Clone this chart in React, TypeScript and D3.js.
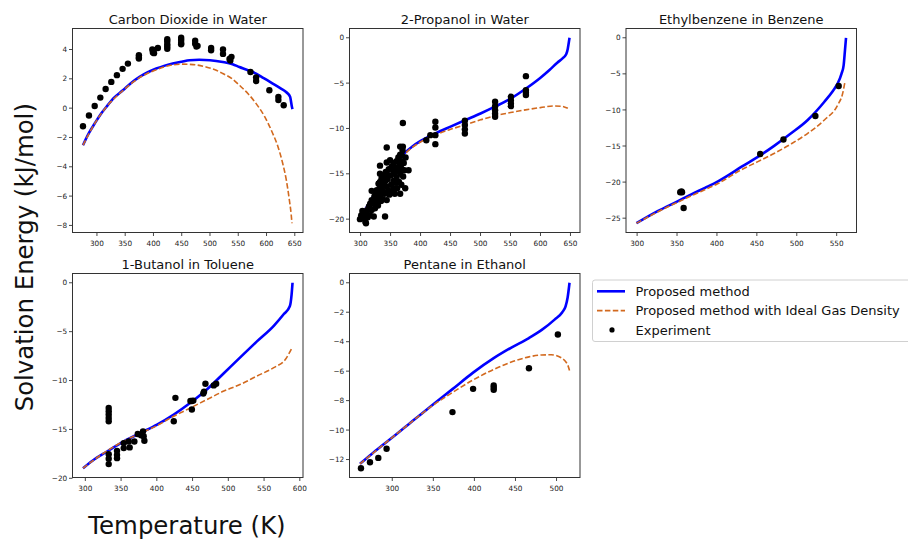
import React from "react";
import * as d3 from "d3";

type P = [number, number];

const panelTitles = [
  "Carbon Dioxide in Water",
  "2-Propanol in Water",
  "Ethylbenzene in Benzene",
  "1-Butanol in Toluene",
  "Pentane in Ethanol",
];

const legendLabels = ["Proposed method", "Proposed method with Ideal Gas Density", "Experiment"];
const xAxisLabel = "Temperature (K)";
const yAxisLabel = "Solvation Energy (kJ/mol)";

// ---------- Carbon Dioxide in Water ----------
const co2Proposed: P[] = [
  [275.3, -2.53], [285, -1.75], [296, -1.05], [306, -0.45], [316.6, 0.08], [330, 0.7],
  [345.9, 1.22], [360, 1.7], [375.4, 2.13], [390, 2.45], [405, 2.7], [420, 2.9],
  [434, 3.04], [450, 3.17], [463.8, 3.27], [481, 3.3], [500, 3.27], [522.6, 3.15],
  [540, 3.0], [552, 2.81], [565, 2.62], [581.6, 2.36], [595, 2.05], [611, 1.68],
  [625, 1.35], [634.6, 1.1], [641.7, 0.77], [645, 0.08], [646, -0.06],
];
const co2Ideal: P[] = [
  [275.3, -2.53], [296, -1.05], [316.6, 0.08], [345.9, 1.2], [375.4, 2.08], [405, 2.62],
  [430, 2.92], [450, 3.0], [470, 2.97], [493, 2.81], [510, 2.6], [522.6, 2.36],
  [540, 1.98], [552, 1.56], [567, 1.0], [581.6, 0.31], [597, -0.6], [611, -1.73],
  [620, -2.6], [628.7, -3.78], [635, -4.9], [640.5, -6.29], [643.5, -7.2], [645, -7.85],
];
const co2Experiment: P[] = [
  [275.3, -1.24], [285.9, -0.5], [296, 0.15], [306, 0.72], [315.4, 1.31], [325.4, 1.79],
  [335.3, 2.25], [345.4, 2.68], [354.8, 3.04], [374.2, 3.61], [374.2, 3.45], [374.2, 3.38],
  [398, 4.0], [399, 3.8], [400, 3.95], [401, 3.75], [407.8, 4.1], [424.4, 4.7],
  [424.4, 4.55], [424.4, 4.35], [424.4, 4.2], [424.4, 4.05], [449, 4.8], [449, 4.65],
  [449, 4.45], [449, 4.35], [473.8, 4.6], [473.8, 4.4], [476, 4.2], [478, 4.25],
  [502, 4.1], [502, 3.95], [523, 4.0], [523, 3.7], [534.5, 3.35], [536, 3.25],
  [538, 3.5], [571.6, 2.47], [581.6, 2.1], [581.6, 1.85], [605, 1.22], [621, 0.77],
  [621, 0.55], [630.4, 0.2],
];
const co2XTicks = [300, 350, 400, 450, 500, 550, 600, 650];
const co2YTicks = [-8, -6, -4, -2, 0, 2, 4];

// ---------- 2-Propanol in Water ----------
const propProposed: P[] = [
  [307, -19.0], [320, -17.6], [332, -16.25], [345, -14.9], [360, -13.7], [372, -12.8],
  [388, -11.9], [405, -11.2], [424.7, -10.55], [450, -9.8], [474, -9.1], [500, -8.35],
  [524, -7.6], [550.6, -6.7], [575.7, -5.6], [600, -4.4], [615, -3.55], [628, -2.75],
  [638, -2.2], [643, -1.8], [645.5, -1.2], [647, -0.6], [648.4, 0],
];
const propIdeal: P[] = [
  [307, -19.0], [332, -16.25], [360, -13.75], [388, -12.0], [405, -11.3], [424.7, -10.7],
  [450, -10.1], [474, -9.6], [500, -9.05], [524, -8.6], [550, -8.25], [575, -7.95],
  [600, -7.7], [623, -7.52], [635, -7.55], [645.6, -7.78],
];
const propExperiment: P[] = [
  [299, -20.0], [301, -19.6], [303, -19.1], [304.5, -19.2], [306, -19.9], [308, -20.3],
  [309, -20.45], [310, -19.5], [311, -19.0], [312, -19.8], [314, -18.6], [315.6, -19.56],
  [316, -18.3], [318.4, -19.0], [318.5, -17.9], [318.5, -16.88], [320, -18.2], [321.2, -18.27],
  [322, -19.7], [323, -17.5], [324, -18.8], [325, -17.2], [326, -18.0], [327, -16.8],
  [328, -17.6], [329, -18.5], [330, -16.1], [330.7, -16.07], [331, -17.0], [332.4, -14.1],
  [332.4, -15.0], [332.4, -15.9], [332.4, -17.5], [333, -16.5], [334, -18.0], [335, -15.5],
  [336, -16.8], [337, -17.8], [338, -15.2], [339, -16.2], [340, -17.2], [340.8, -19.7],
  [341, -15.8], [342, -14.8], [343.6, -12.1], [343.6, -13.75], [343.6, -15.0], [343.6, -16.4],
  [343.6, -17.9], [345, -15.6], [346, -16.8], [347, -14.5], [348, -17.3], [349.2, -13.5],
  [350, -15.2], [351, -16.2], [352, -14.2], [353, -17.0], [354.8, -14.8], [354.8, -15.8],
  [354.8, -16.6], [355, -13.8], [356, -15.0], [357, -17.2], [358, -14.3], [359, -16.0],
  [360, -13.6], [360, -15.4], [361, -16.6], [362, -14.6], [363, -13.2], [364, -15.9],
  [365, -14.0], [366, -12.0], [366, -12.9], [366, -15.0], [366, -17.2], [367, -13.6],
  [368, -16.2], [368, -14.4], [369, -13.0], [370, -12.4], [370.5, -9.4], [370.5, -12.0],
  [371, -15.3], [372, -13.8], [373, -14.6], [374.4, -16.6], [375, -13.2], [380, -14.6],
  [409.6, -11.3], [416.3, -10.74], [424.7, -9.26], [424.7, -9.89], [424.7, -10.74], [424.7, -11.73],
  [473.9, -9.15], [473.9, -9.63], [473.9, -10.1], [473.9, -10.55], [524.3, -7.06], [524.3, -7.54],
  [524.3, -7.98], [524.3, -8.35], [524.3, -8.71], [550.6, -6.51], [550.6, -6.88], [550.6, -7.24],
  [550.6, -7.54], [575.7, -4.23], [575.7, -5.77], [575.7, -6.07], [575.7, -6.32],
];
const propXTicks = [300, 350, 400, 450, 500, 550, 600, 650];
const propYTicks = [-20, -15, -10, -5, 0];

// ---------- Ethylbenzene in Benzene ----------
const ethProposed: P[] = [
  [299.2, -25.7], [326.3, -24.0], [350, -22.7], [367.9, -21.7], [385, -20.8], [401.3, -19.9],
  [415, -19.0], [430.4, -17.9], [451.3, -16.5], [472.1, -14.94], [492.9, -13.24], [513.75, -11.39],
  [534.6, -8.86], [545, -7.4], [551.25, -6.32], [556, -5.0], [558.75, -3.78], [560.4, -1.71],
  [561.7, 0],
];
const ethIdeal: P[] = [
  [299.2, -25.7], [326.3, -24.1], [367.9, -21.9], [401.3, -20.2], [430.4, -18.3], [451.3, -17.16],
  [472.1, -16.0], [492.9, -14.71], [513.75, -13.24], [534.6, -11.39], [551.25, -9.32], [557.5, -7.7],
  [560.4, -6.09],
];
const ethExperiment: P[] = [
  [354, -21.4], [355.5, -21.3], [356.25, -21.4], [358.3, -23.6], [454.2, -16.1], [483.3, -14.1],
  [523.3, -10.84], [552.5, -6.69],
];
const ethXTicks = [300, 350, 400, 450, 500, 550];
const ethYTicks = [-25, -20, -15, -10, -5, 0];

// ---------- 1-Butanol in Toluene ----------
const butProposed: P[] = [
  [296.7, -18.97], [310, -18.2], [330.3, -17.26], [353.7, -16.23], [377, -15.37], [400.3, -14.51],
  [423.7, -13.48], [447, -12.28], [470.3, -10.9], [493.7, -9.25], [517, -7.6], [540, -6.0],
  [563.6, -4.4], [577.7, -3.2], [586, -2.4], [588.5, -1.2], [589.8, 0],
];
const butIdeal: P[] = [
  [296.7, -18.97], [330.3, -17.2], [353.7, -16.2], [377, -15.4], [400.3, -14.6], [423.7, -13.65],
  [447, -12.8], [470.3, -11.94], [493.7, -11.08], [517, -10.39], [540, -9.54], [563.6, -8.68],
  [580, -7.82], [589.3, -6.62],
];
const butExperiment: P[] = [
  [332.7, -12.8], [332.7, -13.13], [332.7, -13.48], [332.7, -13.82], [332.7, -14.17], [332.7, -17.53],
  [332.7, -18.0], [332.7, -18.55], [344.3, -17.19], [344.3, -17.6], [344.3, -17.94], [353.7, -16.4],
  [353.7, -16.91], [360.7, -16.23], [362, -16.84], [368.6, -16.23], [373.3, -15.47], [378, -15.6],
  [380.7, -15.2], [381.6, -15.7], [382.6, -16.16], [423.7, -14.17], [426, -11.77], [447, -12.1],
  [449, -12.1], [449, -12.97], [451, -12.05], [465, -11.32], [466, -11.15], [468, -10.33],
  [479.6, -10.5], [483, -10.33],
];
const butXTicks = [300, 350, 400, 450, 500, 550, 600];
const butYTicks = [-20, -15, -10, -5, 0];

// ---------- Pentane in Ethanol ----------
const penProposed: P[] = [
  [260.7, -12.29], [275, -11.62], [290, -10.95], [305, -10.28], [320, -9.6], [335, -8.92],
  [350, -8.25], [373.3, -7.22], [398.4, -6.1], [423.5, -5.12], [445, -4.4], [466.4, -3.75],
  [482, -3.2], [497.6, -2.5], [507, -2.0], [511, -1.6], [513.5, -1.0], [515.8, 0],
];
const penIdeal: P[] = [
  [260.7, -12.29], [290, -10.95], [320, -9.6], [350, -8.3], [373.3, -7.45], [398.4, -6.6],
  [423.5, -5.88], [445, -5.38], [466.4, -5.03], [482, -4.9], [493.5, -4.89], [505.7, -5.09],
  [511, -5.35], [513.8, -5.6], [515.8, -5.95],
];
const penExperiment: P[] = [
  [261.9, -12.59], [272.9, -12.18], [283, -11.89], [293.1, -11.27], [373.3, -8.78], [398.4, -7.2],
  [423.5, -6.97], [423.5, -7.13], [423.5, -7.27], [466.4, -5.8], [501.6, -3.51],
];
const penXTicks = [300, 350, 400, 450, 500];
const penYTicks = [-12, -10, -8, -6, -4, -2, 0];

const BLUE = "#0000ff";
const ORANGE = "#d2691e";
const FONT = "DejaVu Sans, sans-serif";

const fmt = (v: number) => (v < 0 ? "\u2212" + Math.abs(v) : String(v));

type PanelProps = {
  x0: number; y0: number; w: number; h: number; title: string;
  proposed: P[]; ideal: P[]; exp: P[]; xTicks: number[]; yTicks: number[];
};

function Panel({ x0, y0, w, h, title, proposed, ideal, exp, xTicks, yTicks }: PanelProps) {
  const all = [...proposed, ...ideal, ...exp];
  const [tx0, tx1] = d3.extent(all, (d) => d[0]) as [number, number];
  const [ey0, ey1] = d3.extent(all, (d) => d[1]) as [number, number];
  const px = (tx1 - tx0) * 0.05;
  const py = (ey1 - ey0) * 0.05;
  const xs = d3.scaleLinear().domain([tx0 - px, tx1 + px]).range([x0, x0 + w]);
  const ys = d3.scaleLinear().domain([ey0 - py, ey1 + py]).range([y0 + h, y0]);
  const line = d3.line<P>().x((d) => xs(d[0])).y((d) => ys(d[1])).curve(d3.curveMonotoneX);
  const tickLen = 3.5;
  const axisColor = "#333";
  return (
    <g>
      <text x={x0 + w / 2} y={y0 - 4.5} textAnchor="middle" fontSize={13} fontFamily={FONT} fill="#111">
        {title}
      </text>
      <path d={line(proposed) || ""} fill="none" stroke={BLUE} strokeWidth={2.6} />
      <path d={line(ideal) || ""} fill="none" stroke={ORANGE} strokeWidth={1.6} strokeDasharray="5.5,2.4" />
      {exp.map((d, i) => (
        <circle key={i} cx={xs(d[0])} cy={ys(d[1])} r={3.2} fill="#000" />
      ))}
      <rect x={x0} y={y0} width={w} height={h} fill="none" stroke={axisColor} strokeWidth={1} />
      {xTicks.map((t) => (
        <g key={"x" + t}>
          <line x1={xs(t)} x2={xs(t)} y1={y0 + h} y2={y0 + h + tickLen} stroke={axisColor} strokeWidth={0.9} />
          <text x={xs(t)} y={y0 + h + 13} textAnchor="middle" fontSize={7.3} fontFamily={FONT} fill="#222">
            {fmt(t)}
          </text>
        </g>
      ))}
      {yTicks.map((t) => (
        <g key={"y" + t}>
          <line x1={x0 - tickLen} x2={x0} y1={ys(t)} y2={ys(t)} stroke={axisColor} strokeWidth={0.9} />
          <text x={x0 - tickLen - 1.8} y={ys(t) + 2.6} textAnchor="end" fontSize={7.3} fontFamily={FONT} fill="#222">
            {fmt(t)}
          </text>
        </g>
      ))}
    </g>
  );
}

export default function App() {
  const colX = [72.5, 349.5, 626];
  const rowY = [28.5, 273.5];
  const W = 230.5;
  const H = 204;
  const panels = [
    { c: 0, r: 0, proposed: co2Proposed, ideal: co2Ideal, exp: co2Experiment, xTicks: co2XTicks, yTicks: co2YTicks },
    { c: 1, r: 0, proposed: propProposed, ideal: propIdeal, exp: propExperiment, xTicks: propXTicks, yTicks: propYTicks },
    { c: 2, r: 0, proposed: ethProposed, ideal: ethIdeal, exp: ethExperiment, xTicks: ethXTicks, yTicks: ethYTicks },
    { c: 0, r: 1, proposed: butProposed, ideal: butIdeal, exp: butExperiment, xTicks: butXTicks, yTicks: butYTicks },
    { c: 1, r: 1, proposed: penProposed, ideal: penIdeal, exp: penExperiment, xTicks: penXTicks, yTicks: penYTicks },
  ];
  const legX = 592.5;
  const legY = 280;
  const rowGap = 19.3;
  return (
    <svg
      width={908}
      height={539}
      style={{ position: "absolute", left: 0, top: 0, background: "#fff" }}
    >
      <rect x={0} y={0} width={908} height={539} fill="#fff" />
      {panels.map((p, i) => (
        <Panel
          key={i}
          x0={colX[p.c]}
          y0={rowY[p.r]}
          w={W}
          h={H}
          title={panelTitles[i]}
          proposed={p.proposed}
          ideal={p.ideal}
          exp={p.exp}
          xTicks={p.xTicks}
          yTicks={p.yTicks}
        />
      ))}
      <g>
        <rect x={legX} y={legY} width={330} height={61.5} rx={2.5} fill="#fff" fillOpacity={0.8} stroke="#d0d0d0" strokeWidth={1} />
        <line x1={legX + 4.5} x2={legX + 32.5} y1={legY + 11.3} y2={legY + 11.3} stroke={BLUE} strokeWidth={2.6} />
        <line x1={legX + 4.5} x2={legX + 32.5} y1={legY + 11.3 + rowGap} y2={legY + 11.3 + rowGap} stroke={ORANGE} strokeWidth={1.6} strokeDasharray="5.5,2.4" />
        <circle cx={legX + 19.5} cy={legY + 11.3 + 2 * rowGap} r={2.6} fill="#000" />
        {legendLabels.map((t, i) => (
          <text key={t} x={legX + 43} y={legY + 16 + i * rowGap} fontSize={13} fontFamily={FONT} fill="#111">
            {t}
          </text>
        ))}
      </g>
      <text x={187} y={533.5} textAnchor="middle" fontSize={24.4} fontFamily={FONT} fill="#111">
        {xAxisLabel}
      </text>
      <text
        transform="translate(32.8,257.2) rotate(-90)"
        textAnchor="middle"
        fontSize={24.4}
        fontFamily={FONT}
        fill="#111"
      >
        {yAxisLabel}
      </text>
    </svg>
  );
}
